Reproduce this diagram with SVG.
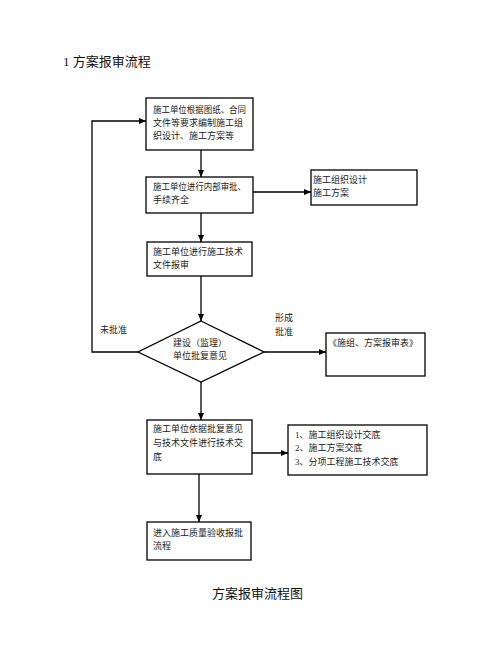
<svg xmlns="http://www.w3.org/2000/svg" width="496" height="652" viewBox="0 0 496 652">
<style>
.box{fill:#fff;stroke:#000;stroke-width:1.3}
.t{font-family:"Liberation Serif","Noto Sans CJK SC",serif;font-size:9px;fill:#222}
.h{font-family:"Liberation Serif","Noto Sans CJK SC",serif;font-size:13px;fill:#111}
.c{fill:none;stroke:#000;stroke-width:1.3}
</style>
<defs>
<marker id="ah" markerWidth="8" markerHeight="8" refX="7" refY="4" orient="auto" markerUnits="userSpaceOnUse">
<path d="M0,1 L7,4 L0,7 Z" fill="#000"/>
</marker>
</defs>
<rect width="496" height="652" fill="#fff"/>
<text class="h" x="63" y="66">1 方案报审流程</text>
<g id="connectors">
<path class="c" d="M201,150 V177" marker-end="url(#ah)"/>
<path class="c" d="M253,192 H311" marker-end="url(#ah)"/>
<path class="c" d="M201,213 V242" marker-end="url(#ah)"/>
<path class="c" d="M201,276 V321" marker-end="url(#ah)"/>
<path class="c" d="M138,352 H92 V121 H146" marker-end="url(#ah)"/>
<path class="c" d="M264,352 H326" marker-end="url(#ah)"/>
<path class="c" d="M201,382 V420" marker-end="url(#ah)"/>
<path class="c" d="M252,453 H288" marker-end="url(#ah)"/>
<path class="c" d="M199,474 V522" marker-end="url(#ah)"/>
<text class="t" x="100" y="333">未批准</text>
<text class="t" x="275" y="321">形成</text>
<text class="t" x="275" y="335">批准</text>
</g>
<g id="n1">
<rect class="box" x="146" y="98" width="107" height="52"/>
<text class="t" x="153" y="113" textLength="93" lengthAdjust="spacingAndGlyphs">施工单位根据图纸、合同</text>
<text class="t" x="153" y="126">文件等要求编制施工组</text>
<text class="t" x="153" y="139">织设计、施工方案等</text>
</g>
<g id="n2">
<rect class="box" x="146" y="177" width="107" height="36"/>
<text class="t" x="153" y="190" textLength="93" lengthAdjust="spacingAndGlyphs">施工单位进行内部审批、</text>
<text class="t" x="153" y="203">手续齐全</text>
</g>
<g id="n3">
<rect class="box" x="311" y="170" width="106" height="35"/>
<text class="t" x="313" y="183">施工组织设计</text>
<text class="t" x="313" y="196">施工方案</text>
</g>
<g id="n4">
<rect class="box" x="147" y="242" width="105" height="34"/>
<text class="t" x="153" y="255">施工单位进行施工技术</text>
<text class="t" x="153" y="268">文件报审</text>
</g>
<g id="n5">
<polygon class="box" points="201,321 264,352 201,382 138,352"/>
<text class="t" x="173" y="346">建设（监理）</text>
<text class="t" x="173" y="359">单位批复意见</text>
</g>
<g id="n6">
<rect class="box" x="326" y="333" width="99" height="43"/>
<text class="t" x="328" y="346">《施组、方案报审表》</text>
</g>
<g id="n7">
<rect class="box" x="147" y="420" width="105" height="54"/>
<text class="t" x="153" y="432">施工单位依据批复意见</text>
<text class="t" x="153" y="446">与技术文件进行技术交</text>
<text class="t" x="153" y="460">底</text>
</g>
<g id="n8">
<rect class="box" x="288" y="425" width="139" height="50"/>
<text class="t" x="295" y="438">1、施工组织设计交底</text>
<text class="t" x="295" y="451">2、施工方案交底</text>
<text class="t" x="295" y="465">3、分项工程施工技术交底</text>
</g>
<g id="n9">
<rect class="box" x="147" y="522" width="104" height="38"/>
<text class="t" x="153" y="536">进入施工质量验收报批</text>
<text class="t" x="153" y="549">流程</text>
</g>
<text class="h" x="212" y="598">方案报审流程图</text>
</svg>
